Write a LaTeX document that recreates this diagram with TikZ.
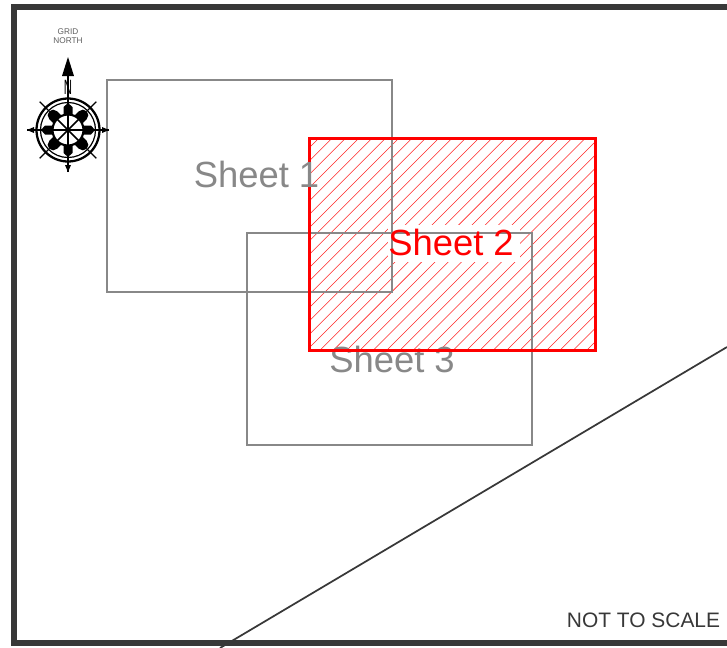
\documentclass[tikz,border=0pt]{standalone}
\usepackage{fontspec}
\setmainfont{Liberation Sans}
\definecolor{framecol}{HTML}{383838}
\definecolor{sheetgrey}{HTML}{888888}
\tikzset{
  x=0.75pt,y=-0.75pt,
  sheetbox/.style={draw=sheetgrey,line width=1.3pt},
  activebox/.style={draw=red,line width=2.25pt},
  hatchline/.style={draw=red!85!white,line width=0.4pt},
  sheetlabel/.style={text=sheetgrey,font=\fontsize{27.3pt}{30pt}\selectfont,inner sep=0pt},
  compassline/.style={draw=black,line width=1pt},
}
\begin{document}
\begin{tikzpicture}
\useasboundingbox (0,0) rectangle (727,647);
\fill[white] (0,0) rectangle (727,647);
% hatching
\begin{scope}
  \clip (309.5,138.5) rectangle (595.5,350.5);
  \foreach \k in {0,...,40}{
    \pgfmathsetmacro{\c}{457+13.33*\k}
    \draw[hatchline] (\c-139,139) -- (\c-351,351);
  }
\end{scope}
\fill[white] (388,225) rectangle (520,262);
% grey sheets
\draw[sheetbox] (106.7,80) rectangle (391.7,292);
\draw[sheetbox] (246.7,233) rectangle (531.7,445);
\node[sheetlabel] (s3) at (392,359.3) {Sheet 3};
% red sheet
\draw[activebox] (309.5,138.5) rectangle (595.5,350.5);
\node[sheetlabel] (s1) at (256.5,174.3) {Sheet 1};
\node[sheetlabel,text=red] (s2) at (451,242.6) {Sheet 2};
% diagonal boundary
\coordinate (lineA) at (727,347);
\coordinate (lineB) at (220,648);
\draw[framecol,line width=1.3pt] (lineA) -- (lineB);
% frame
\draw[framecol,line width=4.5pt] (740,7) -- (14,7) -- (14,643) -- (740,643);
\node[text=framecol,font=\fontsize{15.7pt}{18pt}\selectfont,inner sep=0pt] (nts) at (643.5,620.5) {NOT TO SCALE};
% north label
\node[align=center,text=framecol!80!white,font=\fontsize{6.2pt}{7pt}\selectfont,inner sep=0pt] (grid) at (68,36) {GRID\\NORTH};
% compass
\begin{scope}[shift={(68,130)}]
  \foreach \a in {45,135,225,315}
    \draw[compassline] (\a:28) -- (\a:40);
  \draw[compassline] (-41,0) -- (41,0);
  \draw[compassline] (0,-60) -- (0,42);
  \fill (-41,0) -- (-34,-3) -- (-34,3) -- cycle;
  \fill (41,0) -- (34,-3) -- (34,3) -- cycle;
  \fill (0,42) -- (-3,35) -- (3,35) -- cycle;
  \fill (0,-73) -- (-6,-54) -- (6,-54) -- cycle;
  \draw[line width=1.7pt] (0,0) circle[radius=31.5];
  \draw[line width=0.9pt] (0,0) circle[radius=27.5];
  \foreach \a in {45,135,225,315}
    \fill[rotate=\a] (15,-5.5) rectangle (21,5.5) (21,-5.5) arc[start angle=-90,end angle=90,radius=5.5] -- cycle;
  \foreach \a in {0,90,180,270}
    \fill[rotate=\a] (15,-4.5) rectangle (23,4.5) (23,-4.5) -- (27,0) -- (23,4.5) -- cycle;
  \fill[white] (0,0) circle[radius=15];
  \draw[line width=1.6pt] (0,0) circle[radius=15.5];
  \foreach \a in {0,45,90,135}
    \draw[line width=1.1pt] (\a:15) -- (\a+180:15);
  \node[inner sep=0pt,font=\fontsize{15.5pt}{16pt}\selectfont,xscale=0.55] (northN) at (0,-42.5) {N};
\end{scope}
\end{tikzpicture}
\end{document}
